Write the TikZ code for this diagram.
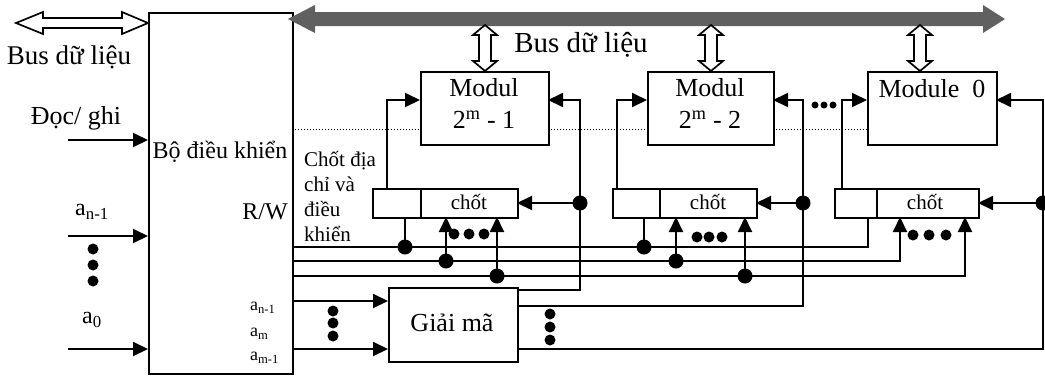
\documentclass[tikz,border=0pt]{standalone}
\usepackage{fontspec}
\setmainfont{Liberation Serif}
\usetikzlibrary{arrows.meta}
\definecolor{busgray}{RGB}{96,96,96}
\begin{document}
\begin{tikzpicture}[x=1pt,y=-1pt,
  box/.style={draw,line width=1.8pt,inner sep=0pt,anchor=north west},
  conn/.style={line width=2pt},
  arr/.style={conn,-{Triangle[length=15pt,width=14pt]}},
  jdot/.style={circle,fill,inner sep=0pt,minimum size=15pt},
  sdot/.style={circle,fill,inner sep=0pt,minimum size=11pt},
  tdot/.style={circle,fill,inner sep=0pt,minimum size=7pt},
  txt/.style={inner sep=0pt,font=\fontsize{26}{30}\selectfont},
  mid/.style={inner sep=0pt,font=\fontsize{24}{28}\selectfont},
  sml/.style={inner sep=0pt,font=\fontsize{21}{25}\selectfont},
  tiny/.style={inner sep=0pt,anchor=west,font=\fontsize{18}{20}\selectfont},
  hollow/.style={draw,line width=1.7pt,fill=white,line join=miter}
]
\useasboundingbox (0,0) rectangle (1045,376);

% ---------- boxes ----------
\node[box,line width=1.5pt,minimum width=144pt,minimum height=361pt] (ctrl) at (148,12) {};
\node[box,minimum width=128pt,minimum height=73pt] (m1) at (420,71) {};
\node[box,minimum width=126pt,minimum height=73pt] (m2) at (647,71) {};
\node[box,minimum width=129pt,minimum height=73pt] (m0) at (867,71) {};
\node[box,minimum width=145pt,minimum height=29pt] (L1) at (372,188) {};
\node[box,minimum width=144pt,minimum height=29pt] (L2) at (612,188) {};
\node[box,minimum width=144pt,minimum height=29pt] (L0) at (834,188) {};
\node[box,minimum width=129pt,minimum height=74pt] (dec) at (388,287) {};
\draw[line width=1.8pt] (421,188) -- (421,217);
\draw[line width=1.8pt] (660,188) -- (660,217);
\draw[line width=1.8pt] (877,188) -- (877,217);

% ---------- texts ----------
\node[txt,font=\fontsize{27}{30}\selectfont] (tbus1) at (69,57) {Bus dữ liệu};
\node[txt,font=\fontsize{29}{32}\selectfont] (tbus2) at (581,45) {Bus dữ liệu};
\node[txt] (tdoc) at (76,118) {Đọc/ ghi};
\node[mid] (tctrl) at (220,152) {Bộ điều khiển};
\node[mid] (trw) at (265,212) {R/W};
\node[mid] (tan) at (92,212) {a\textsubscript{n-1}};
\node[mid] (ta0) at (92,320) {a\textsubscript{0}};
\node[tiny] (ian) at (250,308) {a\textsubscript{n-1}};
\node[tiny] (iam) at (250,334) {a\textsubscript{m}};
\node[tiny] (iam1) at (250,358) {a\textsubscript{m-1}};
\node[txt] at (484,88) {Modul};
\node[txt] at (484,120) {2\textsuperscript{m} - 1};
\node[txt] at (710,88) {Modul};
\node[txt] at (710,120) {2\textsuperscript{m} - 2};
\node[txt] at (932,89) {Module\ \ 0};
\node[sml] at (469,202) {chốt};
\node[sml] at (708,202) {chốt};
\node[sml] at (925,202) {chốt};
\node[sml,anchor=west,align=left] (tlatch) at (304,196)
  {Chốt địa\\chỉ và\\điều\\khiển};
\node[txt] at (452,323) {Giải mã};

% ---------- buses ----------
\fill[busgray] (288,19) -- (315,5) -- (315,12) -- (983,12) -- (983,5) -- (1005,19)
  -- (983,33) -- (983,26) -- (315,26) -- (315,33) -- cycle;
\draw[hollow] (16,23) -- (43,12) -- (43,18) -- (122,18) -- (122,12) -- (148,23)
  -- (122,34) -- (122,28) -- (43,28) -- (43,34) -- cycle;
\foreach \c in {485,711,920}{
  \draw[hollow] (\c,25) -- (\c+12,35) -- (\c+6,35) -- (\c+6,61) -- (\c+12,61) -- (\c,71)
    -- (\c-12,61) -- (\c-6,61) -- (\c-6,35) -- (\c-12,35) -- cycle;
}

% ---------- dotted line ----------
\draw[dotted,line width=1pt] (292,129) -- (420,129);
\draw[dotted,line width=1pt] (548,129) -- (647,129);
\draw[dotted,line width=1pt] (773,129) -- (867,129);

% ---------- inputs ----------
\coordinate (in1) at (68,140);
\coordinate (in2) at (68,236);
\coordinate (in3) at (68,349);
\draw[arr] (in1) -- (in1 -| ctrl.west);
\draw[arr] (in2) -- (in2 -| ctrl.west);
\draw[arr] (in3) -- (in3 -| ctrl.west);
\draw[arr] (292,301) -- (388,301);
\draw[arr] (292,349) -- (388,349);

% ---------- control lines ----------
\draw[conn] (292,247) -- (868,247) -- (868,217);
\draw[arr] (292,261) -- (900,261) -- (900,217);
\draw[arr] (292,276) -- (965,276) -- (965,217);
\draw[conn] (405,247) -- (405,217);
\draw[arr] (446,261) -- (446,217);
\draw[arr] (497,276) -- (497,217);
\draw[conn] (644,247) -- (644,217);
\draw[arr] (676,261) -- (676,217);
\draw[arr] (745,276) -- (745,217);

% ---------- latch to module ----------
\draw[arr] (387,188) -- (387,100) -- (420,100);
\draw[arr] (617,188) -- (617,100) -- (647,100);
\draw[arr] (842,188) -- (842,100) -- (867,100);

% ---------- decoder outputs ----------
\draw[arr] (517,290) -- (580,290) -- (580,100) -- (548,100);
\draw[arr] (517,306) -- (803,306) -- (803,100) -- (773,100);
\draw[arr] (517,349) -- (1043,349) -- (1043,100) -- (996,100);
\draw[arr] (580,203) -- (517,203);
\draw[arr] (803,203) -- (756,203);
\draw[arr] (1043,203) -- (978,203);

% ---------- junction dots ----------
\foreach \p in {(405,247),(446,261),(497,276),(644,247),(676,261),(745,276),
  (580,203),(803,203),(1043,203)}
  \node[jdot] at \p {};

% ---------- ellipsis dots ----------
\foreach \p in {(93,249),(93,265),(93,281),(333,311),(333,323),(333,336),
  (550,314),(550,327),(550,340),(454,234),(469,234),(484,234),
  (697,237),(709,237),(722,237),(913,235),(929,235),(946,235)}
  \node[sdot] at \p {};
\foreach \p in {(815,105),(824,105),(833,105)}
  \node[tdot] at \p {};
\end{tikzpicture}
\end{document}
